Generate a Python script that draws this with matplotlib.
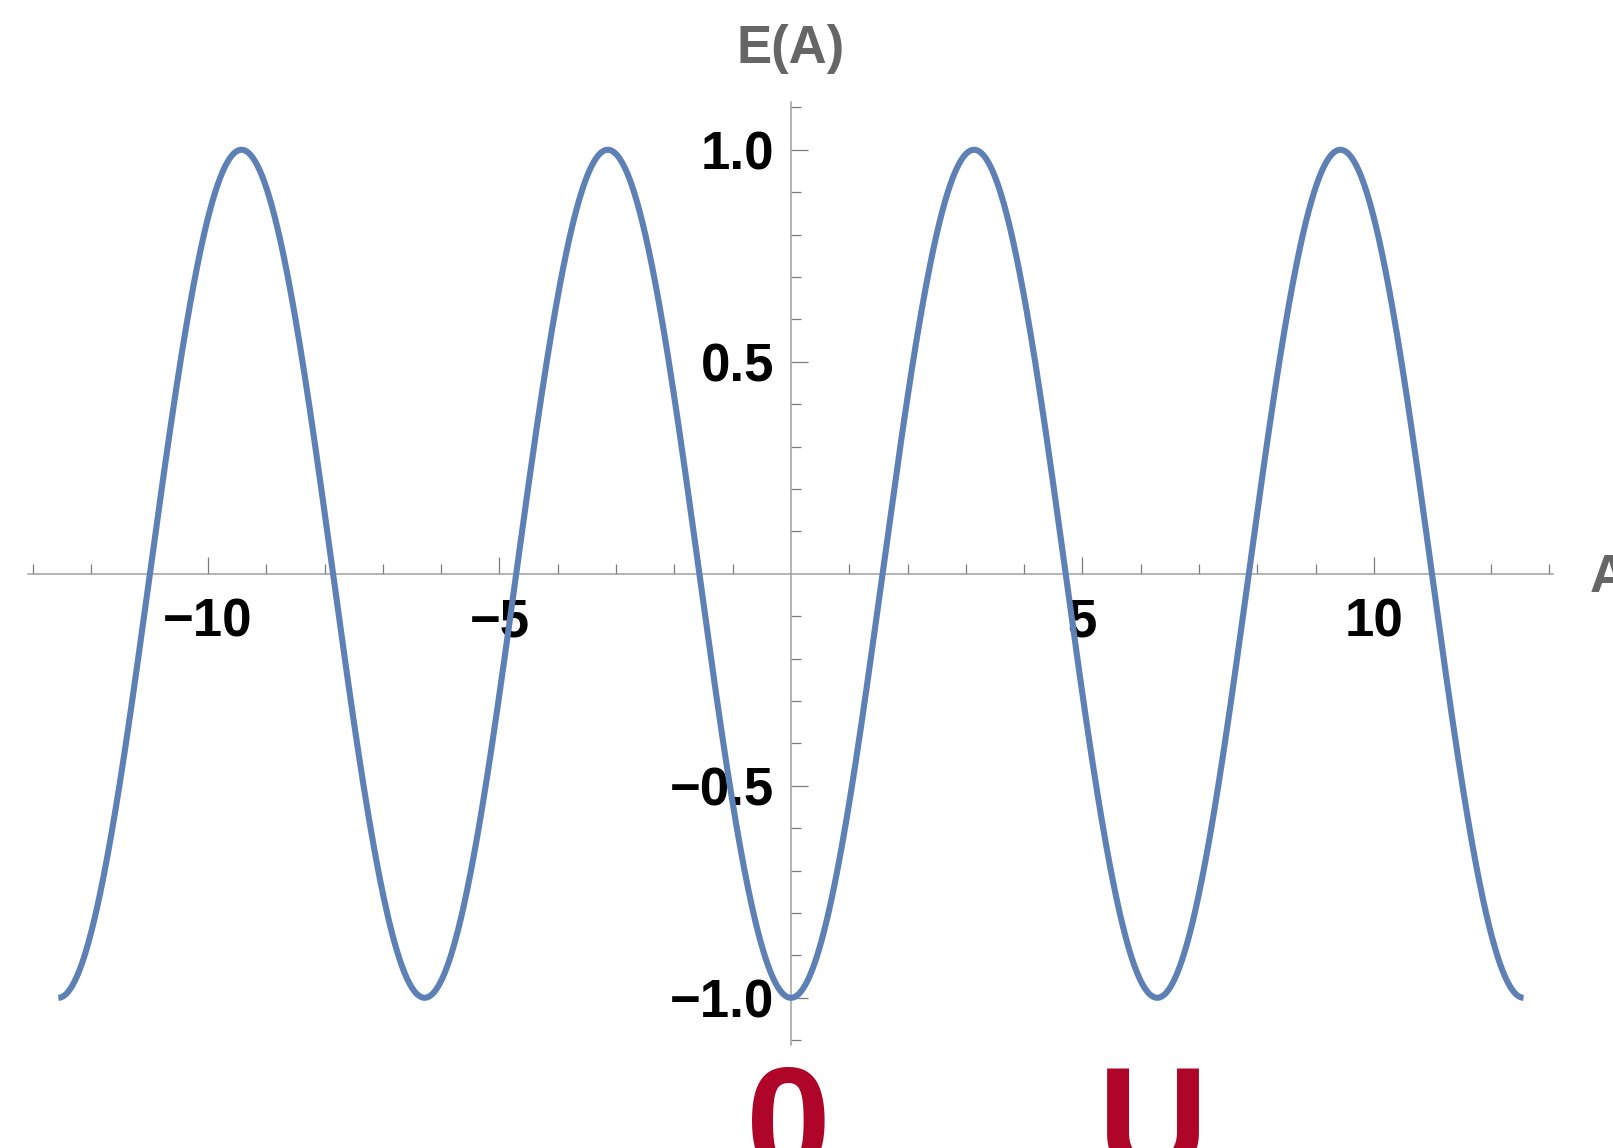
import numpy as np
import matplotlib
matplotlib.use("Agg")
import matplotlib.pyplot as plt
from matplotlib.ticker import FixedLocator
from matplotlib.font_manager import FontProperties

# ---- data ----
a_start = -4 * np.pi          # curve domain (-12.57 .. 12.57)
a_end = 4 * np.pi
amplitude = 1.0               # E(A) = -cos(A)
x_major_ticks = [-10, -5, 5, 10]
x_major_labels = ["\u221210", "\u22125", "5", "10"]
y_major_ticks = [-1.0, -0.5, 0.5, 1.0]
y_major_labels = ["\u22121.0", "\u22120.5", "0.5", "1.0"]
x_limits = (-13.08, 13.08)
y_limits = (-1.112, 1.112)
bottom_words = ["0", "U"]
bottom_word_x = [788, 1153]   # pixel centres

A = np.linspace(a_start, a_end, 2000)
E = -amplitude * np.cos(A)

W, H = 1613, 1148
fig = plt.figure(figsize=(W / 100, H / 100), dpi=100)
ax = fig.add_axes([0.0176, 0.0895, 0.9455, 0.8214])
ax.set_xlim(*x_limits)
ax.set_ylim(*y_limits)
ax.set_facecolor("none")

ax.plot(A, E, color="#5E81B5", lw=4.4, solid_capstyle="butt", zorder=3)

for s in ["top", "right"]:
    ax.spines[s].set_visible(False)
ax.spines["left"].set_position(("data", 0))
ax.spines["bottom"].set_position(("data", 0))
for s in ["left", "bottom"]:
    ax.spines[s].set_color("#a0a0a0")
    ax.spines[s].set_linewidth(1.1)

ax.xaxis.set_major_locator(FixedLocator(x_major_ticks))
ax.xaxis.set_minor_locator(FixedLocator([v for v in range(-13, 14) if v % 5 != 0]))
ax.set_xticklabels(x_major_labels)
ax.yaxis.set_major_locator(FixedLocator(y_major_ticks))
ax.yaxis.set_minor_locator(FixedLocator([round(v * 0.1, 1) for v in range(-11, 12) if v % 5 != 0]))
ax.set_yticklabels(y_major_labels)

lab_fp = FontProperties(family=["Liberation Sans", "DejaVu Sans"], weight="bold", size=38)
ax.tick_params(axis="both", which="major", direction="in", length=12.5, width=0.9,
               color="#7a7a7a", labelcolor="black")
ax.tick_params(axis="both", which="minor", direction="in", length=7.2, width=0.9,
               color="#7a7a7a")
ax.tick_params(axis="x", which="major", pad=17)
ax.tick_params(axis="y", which="major", pad=12)
for lab in ax.get_xticklabels() + ax.get_yticklabels():
    lab.set_fontproperties(lab_fp)

fig.text(790.5 / W, 1 - 63 / H, "E(A)", ha="center", va="baseline",
         color="#666666", fontsize=38, fontweight="bold",
         family=["Liberation Sans", "DejaVu Sans"])
fig.text(1590 / W, 1 - 592 / H, "A", ha="left", va="baseline",
         color="#666666", fontsize=38, fontweight="bold",
         family=["Liberation Sans", "DejaVu Sans"])

for w, xc in zip(bottom_words, bottom_word_x):
    fig.text(xc / W, (H - 1174) / H, w, ha="center", va="baseline",
             color="#AF0529", fontsize=110, fontweight="bold",
             family=["Liberation Sans", "DejaVu Sans"])

fig.savefig("out.png", dpi=100)
